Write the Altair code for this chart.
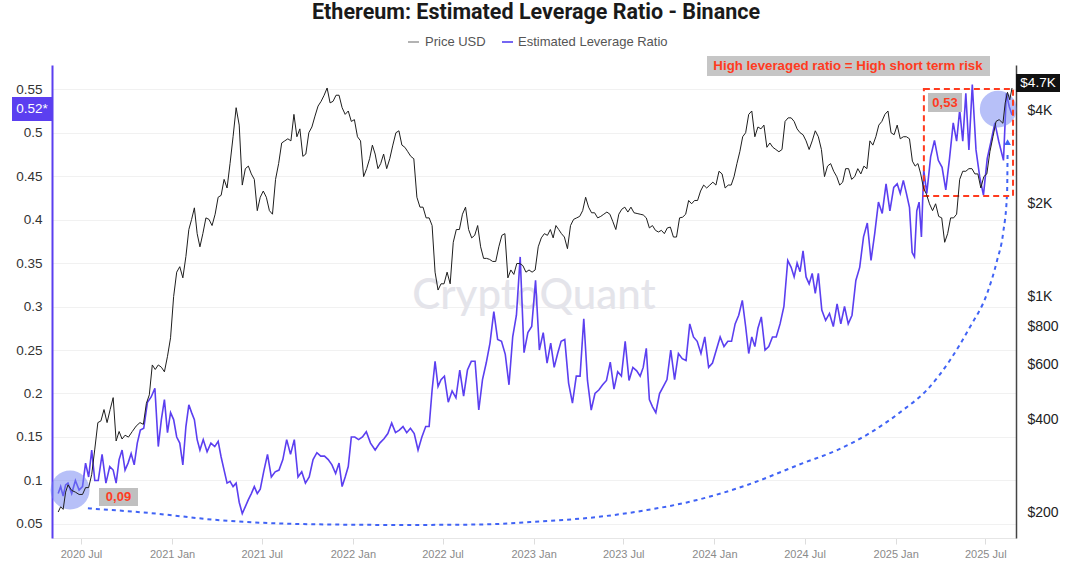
import calendar
import pandas as pd
import altair as alt

BLUE = "#5b3ff0"
CURVE = "#4063f5"
RED = "#ff3b1f"

TITLE = "Ethereum: Estimated Leverage Ratio - Binance"
LEGEND = ["Price USD", "Estimated Leverage Ratio"]
NOTE = "High leveraged ratio = High short term risk"
LABEL_HI = "0,53"
LABEL_LO = "0,09"
BADGE_LEV = "0.52*"
BADGE_PRICE = "$4.7K"

lev_ticks = [0.05, 0.1, 0.15, 0.2, 0.25, 0.3, 0.35, 0.4, 0.45, 0.5, 0.55]
price_ticks = [200, 400, 600, 800, 1000, 2000, 4000]

# ---- Estimated leverage ratio (values per month) ----
lev_2020 = {
    5: [0.085, 0.093, 0.082, 0.095],
    6: [0.097, 0.085, 0.1, 0.089],
    7: [0.093, 0.12, 0.104, 0.135, 0.1],
    8: [0.1, 0.13, 0.097, 0.116],
    9: [0.112, 0.097, 0.124, 0.135, 0.112],
    10: [0.12, 0.131, 0.118, 0.143, 0.158],
    11: [0.16, 0.19, 0.196, 0.206],
    12: [0.139, 0.17, 0.193, 0.155, 0.178],
}
lev_2021 = {
    1: [0.17, 0.15, 0.143, 0.118, 0.162],
    2: [0.187, 0.178, 0.17, 0.147, 0.135],
    3: [0.147, 0.133, 0.143, 0.139],
    4: [0.145, 0.127, 0.112, 0.097, 0.099],
    5: [0.093, 0.097, 0.075, 0.062, 0.07],
    6: [0.078, 0.085, 0.093, 0.085, 0.09],
    7: [0.11, 0.13, 0.104, 0.11],
    8: [0.112, 0.124, 0.147, 0.13],
    9: [0.147, 0.104, 0.11, 0.097],
    10: [0.104, 0.124, 0.132, 0.128],
    11: [0.128, 0.124, 0.118, 0.108],
    12: [0.12, 0.093, 0.104, 0.116, 0.15],
}
lev_2022 = {
    1: [0.15, 0.147, 0.15, 0.156],
    2: [0.143, 0.135, 0.143],
    3: [0.148, 0.154, 0.166, 0.155],
    4: [0.158, 0.162, 0.155, 0.16],
    5: [0.154, 0.135, 0.15, 0.162],
    6: [0.162, 0.204, 0.237, 0.208, 0.216],
    7: [0.22, 0.19, 0.203, 0.195],
    8: [0.227, 0.197, 0.227, 0.237],
    9: [0.237, 0.181, 0.216, 0.235],
    10: [0.258, 0.294, 0.262, 0.26],
    11: [0.245, 0.21, 0.265, 0.29],
    12: [0.357, 0.247, 0.27, 0.277],
}
lev_2023 = {
    1: [0.33, 0.25, 0.27, 0.235],
    2: [0.258, 0.23, 0.246, 0.26],
    3: [0.262, 0.212, 0.189, 0.22],
    4: [0.22, 0.286, 0.215, 0.181],
    5: [0.2, 0.204, 0.21, 0.215],
    6: [0.236, 0.205, 0.225, 0.22],
    7: [0.26, 0.215, 0.23, 0.226],
    8: [0.22, 0.23, 0.252, 0.193, 0.185],
    9: [0.178, 0.2, 0.208, 0.216],
    10: [0.25, 0.216, 0.246, 0.24],
    11: [0.238, 0.28, 0.265, 0.26],
    12: [0.246, 0.265, 0.23, 0.235],
}
lev_2024 = {
    1: [0.25, 0.265, 0.254, 0.26],
    2: [0.26, 0.28, 0.29, 0.307],
    3: [0.277, 0.246, 0.265, 0.254, 0.275],
    4: [0.288, 0.25, 0.254, 0.265],
    5: [0.265, 0.28, 0.3, 0.353],
    6: [0.345, 0.334, 0.35, 0.34, 0.364],
    7: [0.334, 0.326, 0.338, 0.315, 0.338],
    8: [0.296, 0.284, 0.292, 0.277],
    9: [0.303, 0.28, 0.3, 0.28],
    10: [0.29, 0.33, 0.345, 0.38],
    11: [0.396, 0.353, 0.384, 0.42],
    12: [0.407, 0.441, 0.41, 0.437],
}
lev_2025 = {
    1: [0.441, 0.43, 0.445, 0.43, 0.414],
    2: [0.362, 0.357, 0.41, 0.42, 0.38, 0.457],
    3: [0.43, 0.472, 0.491, 0.468],
    4: [0.46, 0.434, 0.47, 0.511],
    5: [0.49, 0.526, 0.49, 0.545, 0.48],
    6: [0.555, 0.48, 0.449, 0.428],
    7: [0.47, 0.49, 0.511, 0.49],
    8: [0.468, 0.545, 0.53, 0.52],
}

# ---- ETH price USD (values per month) ----
price_2020 = {
    5: [200, 208, 204, 232],
    6: [245, 235, 232, 228],
    7: [228, 240, 240, 265, 320],
    8: [390, 395, 430, 390, 430],
    9: [470, 340, 365, 345, 355],
    10: [350, 365, 380, 390],
    11: [385, 450, 480, 600, 580],
    12: [600, 590, 570, 640, 735],
}
price_2021 = {
    1: [1000, 1200, 1250, 1150, 1350],
    2: [1650, 1780, 1940, 1600, 1450],
    3: [1600, 1800, 1780, 1700, 1850],
    4: [2100, 2130, 2400, 2250, 2700],
    5: [3300, 4100, 3600, 2300, 2600],
    6: [2650, 2500, 2400, 1900, 2100],
    7: [2200, 2100, 1900, 1850, 2400],
    8: [2700, 3150, 3200, 3250, 3200],
    9: [3900, 3300, 3500, 2850, 2900],
    10: [3400, 3550, 3850, 4150, 4300],
    11: [4500, 4750, 4250, 4300, 4500],
    12: [4500, 4100, 3900, 4000, 3700],
}
price_2022 = {
    1: [3750, 3300, 3200, 2450, 2600],
    2: [2800, 3100, 2900, 2600, 2700],
    3: [2900, 2600, 2800, 3100, 3400],
    4: [3450, 3100, 3050, 2950, 2850],
    5: [2800, 2100, 1950, 1950, 1800],
    6: [1800, 1700, 1200, 1050, 1100],
    7: [1100, 1200, 1100, 1500, 1650],
    8: [1650, 1850, 1950, 1650, 1550],
    9: [1580, 1700, 1450, 1330, 1330],
    10: [1320, 1300, 1300, 1450, 1580],
    11: [1600, 1150, 1220, 1180, 1280],
    12: [1280, 1260, 1200, 1220, 1200],
}
price_2023 = {
    1: [1220, 1450, 1550, 1600, 1580],
    2: [1650, 1550, 1700, 1650, 1600],
    3: [1560, 1430, 1700, 1780, 1800],
    4: [1820, 1900, 2100, 1950, 1870],
    5: [1870, 1800, 1820, 1850, 1880],
    6: [1850, 1750, 1650, 1850, 1920],
    7: [1950, 1880, 1950, 1870, 1860],
    8: [1850, 1840, 1800, 1670, 1700],
    9: [1640, 1620, 1640, 1600, 1670],
    10: [1680, 1560, 1560, 1800, 1810],
    11: [1850, 2050, 2000, 2050, 2050],
    12: [2200, 2300, 2250, 2300, 2350],
}
price_2024 = {
    1: [2300, 2550, 2500, 2250, 2300],
    2: [2300, 2450, 2700, 2950, 3300],
    3: [3400, 3900, 4000, 3300, 3550],
    4: [3500, 3600, 3050, 3150, 3050],
    5: [3000, 2950, 3000, 3700, 3800],
    6: [3800, 3700, 3500, 3400, 3350],
    7: [3200, 3000, 3200, 3450, 3300],
    8: [3000, 2450, 2650, 2700, 2550],
    9: [2450, 2300, 2350, 2600, 2600],
    10: [2400, 2450, 2600, 2500, 2650],
    11: [2600, 3200, 3100, 3300, 3600],
    12: [3700, 3900, 4000, 3400, 3350],
}
price_2025 = {
    1: [3600, 3250, 3300, 3300, 3250],
    2: [2750, 2650, 2700, 2500, 2250],
    3: [2150, 2000, 1900, 2000, 1820],
    4: [1800, 1500, 1600, 1800, 1800],
    5: [1850, 2400, 2550, 2550, 2600],
    6: [2600, 2500, 2500, 2250, 2450],
    7: [2500, 2950, 3300, 3700, 3750],
    8: [3650, 4250, 4600, 4350, 4750],
}

# ---- annotation anchors (data units) ----
curve_dates = ["2020-07-15", "2020-11-17", "2021-04-02", "2021-09-16", "2022-04-06",
               "2022-09-15", "2022-12-25", "2023-05-09", "2023-08-18", "2023-11-27",
               "2024-03-07", "2024-06-28", "2024-09-05", "2024-11-10", "2025-01-16",
               "2025-03-05", "2025-04-21", "2025-05-31", "2025-07-05", "2025-07-25",
               "2025-08-06", "2025-08-14", "2025-08-15"]
curve_vals = [0.068, 0.0626, 0.0546, 0.05, 0.0489, 0.0494, 0.0523, 0.058, 0.066, 0.0776,
              0.0948, 0.12, 0.135, 0.1546, 0.181, 0.204, 0.2385, 0.2764, 0.3155, 0.3534,
              0.3845, 0.4305, 0.478]
arrow_date = ["2025-08-15"]
arrow_val = [0.489]
circle_dates = ["2020-06-09", "2025-07-27"]
circle_vals = [0.089, 0.527]
circle_sizes = [1520, 1350]
box_dates = ["2025-02-27", "2025-08-26"]
box_vals = [0.427, 0.55]


def expand(blocks, first=(2020, 5, 16), last=(2025, 8, 24)):
    rows = []
    for year, months in blocks:
        for m, vals in months.items():
            ndays = calendar.monthrange(year, m)[1]
            start = pd.Timestamp(year, m, 1)
            k = len(vals)
            for i, v in enumerate(vals):
                if (year, m) == first[:2]:
                    d = pd.Timestamp(*first) + pd.Timedelta(days=(ndays - first[2]) * i / (k - 1))
                elif (year, m) == last[:2]:
                    d = start + pd.Timedelta(days=(last[2] - 1) * (i + 1) / k)
                else:
                    d = start + pd.Timedelta(days=ndays * (i + 0.5) / k)
                rows.append({"date": d, "value": v})
    return pd.DataFrame(rows)


lev_df = expand([(2020, lev_2020), (2021, lev_2021), (2022, lev_2022),
                 (2023, lev_2023), (2024, lev_2024), (2025, lev_2025)])
price_df = expand([(2020, price_2020), (2021, price_2021), (2022, price_2022),
                   (2023, price_2023), (2024, price_2024), (2025, price_2025)])

curve_df = pd.DataFrame({"date": pd.to_datetime(curve_dates), "value": curve_vals})
arrow_df = pd.DataFrame({"date": pd.to_datetime(arrow_date), "value": arrow_val})
circle_df = pd.DataFrame({"date": pd.to_datetime(circle_dates), "value": circle_vals,
                          "size": circle_sizes})
box_df = pd.DataFrame({"date": [pd.Timestamp(box_dates[0])], "date2": [pd.Timestamp(box_dates[1])],
                       "value": [box_vals[0]], "value2": [box_vals[1]]})

FONT = "Liberation Sans"

XS = alt.Scale(domain=[alt.DateTime(year=2020, month=5, date=3, hours=12),
                       alt.DateTime(year=2025, month=9, date=1)])
x_tick_values = []
for yr in range(2020, 2026):
    for mo in (1, 7):
        if (yr, mo) != (2020, 1):
            x_tick_values.append(alt.DateTime(year=yr, month=mo, date=1))
XAX = alt.Axis(values=x_tick_values, format="%Y %b", title=None, grid=False,
               labelColor="#8a8a8a", labelFontSize=11, labelFont=FONT,
               tickColor="#dddddd", tickSize=6, domainColor="#e6e6e6",
               labelPadding=4)
X = alt.X("date:T", scale=XS, axis=XAX)

YLS = alt.Scale(domain=[0.0339, 0.5776], nice=False, zero=False)
YLAX = alt.Axis(orient="left", values=lev_ticks, format="~g", title=None,
                labelColor="#333333", labelFontSize=13.5, labelFont=FONT,
                labelPadding=10, ticks=False, domainColor=BLUE, domainWidth=2,
                grid=True, gridColor="#f1f1f1")
YL = alt.Y("value:Q", scale=YLS, axis=YLAX)

YPS = alt.Scale(type="log", domain=[164.7, 5640], nice=False)
YPAX = alt.Axis(orient="right", values=price_ticks, title=None,
                labelExpr="datum.value >= 1000 ? '$' + (datum.value / 1000) + 'K' : '$' + datum.value",
                labelColor="#222222", labelFontSize=14, labelFont=FONT,
                labelPadding=11, ticks=False, domainColor="#444444", domainWidth=1.5,
                grid=False)
YP = alt.Y("value:Q", scale=YPS, axis=YPAX)

one = pd.DataFrame({"t": [""]})


def text_layer(txt, x, y, size, color, weight="normal", align="center", font=FONT):
    return alt.Chart(pd.DataFrame({"t": [txt]})).mark_text(
        fontSize=size, color=color, fontWeight=weight, align=align,
        baseline="middle", font=font
    ).encode(text="t:N", x=alt.value(x), y=alt.value(y))


def rect_layer(x, x2, y, y2, color):
    return alt.Chart(one).mark_rect(color=color).encode(
        x=alt.value(x), x2=alt.value(x2), y=alt.value(y), y2=alt.value(y2))


def rule_layer(x, x2, y, color, width=1.5):
    return alt.Chart(one).mark_rule(color=color, strokeWidth=width).encode(
        x=alt.value(x), x2=alt.value(x2), y=alt.value(y))


watermark = text_layer("CryptoQuant", 482, 231, 42, "#e4e4ea", weight=500, font="Lato")

lev_line = alt.Chart(lev_df).mark_line(color=BLUE, strokeWidth=1.6).encode(x=X, y=YL)

curve = alt.Chart(curve_df).mark_line(color=CURVE, strokeWidth=2, strokeDash=[4, 4],
                                      interpolate="monotone").encode(x=X, y=YL)
arrow = alt.Chart(arrow_df).mark_point(shape="triangle-up", filled=True, color=CURVE,
                                       size=45, opacity=1).encode(x=X, y=YL)
circles = alt.Chart(circle_df).mark_circle(color="#6f82f2", opacity=0.5).encode(
    x=X, y=YL, size=alt.Size("size:Q", scale=None, legend=None))
red_box = alt.Chart(box_df).mark_rect(fillOpacity=0, stroke=RED, strokeWidth=2,
                                      strokeDash=[6, 4]).encode(
    x=X, x2="date2:T", y=YL, y2="value2:Q")

inner = alt.layer(watermark, lev_line, curve, arrow, circles, red_box)

price_line = alt.Chart(price_df).mark_line(color="#1e1e1e", strokeWidth=1).encode(x=X, y=YP)

overlays = [
    text_layer(TITLE, 484, -52, 21.5, "#1a1a1a", weight="bold", font="Roboto"),
    rule_layer(356, 367, -23, "#9a9a9a"),
    text_layer(LEGEND[0], 373, -23, 13, "#555555", align="left"),
    rule_layer(450, 461, -23, "#7566f2", width=2),
    text_layer(LEGEND[1], 466, -23, 13, "#555555", align="left"),
    rect_layer(655, 938, -9, 11, "#c6c6c6"),
    text_layer(NOTE, 796, 1, 13.3, RED, weight="bold"),
    rect_layer(876, 910, 28, 47, "#c0c0c0"),
    text_layer(LABEL_HI, 893, 37.5, 13, RED, weight="bold"),
    rect_layer(47, 86, 423, 441, "#c0c0c0"),
    text_layer(LABEL_LO, 66.5, 432, 13, RED, weight="bold"),
    rect_layer(964, 1008, 9, 27, "#111111"),
    text_layer(BADGE_PRICE, 986, 18, 13.5, "#ffffff"),
    rect_layer(-40, 0, 32, 56, BLUE),
    text_layer(BADGE_LEV, -20, 44, 13.5, "#ffffff"),
]

chart = alt.layer(inner, price_line, *overlays).resolve_scale(
    y="independent"
).properties(
    width=964, height=473,
    padding={"left": 52, "top": 65, "right": 54, "bottom": 27},
    autosize=alt.AutoSizeParams(type="none"),
    background="#ffffff",
).configure_view(stroke=None)

chart.save("out.html", embed_options={"renderer": "svg", "actions": False})
